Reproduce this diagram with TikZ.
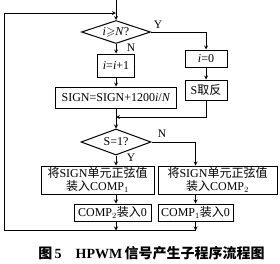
\documentclass[tikz,border=0pt]{standalone}
\usepackage{amssymb}
\usepackage{fontspec}
\setmainfont{Liberation Serif}
\newfontfamily\cjk{Noto Sans CJK SC}
\usetikzlibrary{shapes.geometric}
\newcommand{\zh}[1]{{\cjk #1}}

\begin{document}
\begin{tikzpicture}[x=1pt, y=-1pt, >=stealth, line width=0.8pt,
  box/.style={draw, line width=1pt, inner sep=1pt, align=center, font=\fontsize{12}{12.5}\selectfont},
  test/.style={draw, line width=1pt, diamond, aspect=3, inner sep=0pt, font=\fontsize{12}{12.5}\selectfont},
  lbl/.style={inner sep=0pt, font=\fontsize{11.5}{12}\selectfont}]
  \useasboundingbox (0,0) rectangle (280,263);
  \coordinate (start) at (116,0);
  \coordinate (loop) at (116,13);
  \node[test, minimum width=69pt, minimum height=23pt] (d1) at (116,32) {\textit{i}$\geqslant$\textit{N}?};
  \node[box, minimum width=37pt, minimum height=23pt] (b1) at (116,65.5) {\textit{i}=\textit{i}+1};
  \node[box, minimum width=121pt, minimum height=21pt] (b2) at (116,97.5) {SIGN=SIGN+1200\textit{i}/\textit{N}};
  \node[box, minimum width=42pt, minimum height=17pt] (r1) at (206,58.5) {\textit{i}=0};
  \node[box, minimum width=42pt, minimum height=20pt] (r2) at (206,90) {S\zh{取反}};
  \coordinate (join) at (116,117);
  \node[test, minimum width=70pt, minimum height=26pt] (d2) at (116,142) {S=1?};
  \node[box, minimum width=113pt, minimum height=28pt] (b3) at (97.5,180) {\zh{将}SIGN\zh{单元正弦值}\\\zh{装入}COMP$_1$};
  \node[box, minimum width=119pt, minimum height=28pt] (b4) at (217.5,180) {\zh{将}SIGN\zh{单元正弦值}\\\zh{装入}COMP$_2$};
  \node[box, minimum width=77pt, minimum height=17pt] (b5) at (112.5,212.5) {COMP$_2$\zh{装入}0};
  \node[box, minimum width=75pt, minimum height=17pt] (b6) at (195.5,212.5) {COMP$_1$\zh{装入}0};
  \coordinate (bl) at (4,230.5);
  \node[lbl] (y1) at (158,25) {Y};
  \node[lbl] (n1) at (131,48) {N};
  \node[lbl] (n2) at (162,134) {N};
  \node[lbl] (y2) at (131,158) {Y};
  \draw[->] (start) -- (d1.north);
  \draw[->] (d1.south) -- (b1.north);
  \draw[->] (b1.south) -- (b2.north);
  \draw[->] (d1.east) -| (r1.north);
  \draw[->] (r1.south) -- (r2.north);
  \draw[->] (r2.south) |- (join);
  \draw[->] (b2.south) -- (d2.north);
  \draw[->] (d2.south) -- (d2.south |- b3.north);
  \draw[->] (d2.east) -| (b6.north |- b4.north);
  \draw[->] (b3.south -| d2.south) -- (d2.south |- b5.north);
  \draw[->] (b4.south -| b6.north) -- (b6.north);
  \draw[->] (b5.south -| d2.south) -- (d2.south |- bl);
  \draw[->] (b6.south) -- (b6.south |- bl);
  \draw[->] (b6.south |- bl) -- (bl) |- (loop);
  \node[font=\fontsize{14}{15}\selectfont\bfseries] (cap) at (151.5,253) {\zh{图}\,5\hspace{1em}HPWM\,\zh{信号产生子程序流程图}};
\end{tikzpicture}
\end{document}
